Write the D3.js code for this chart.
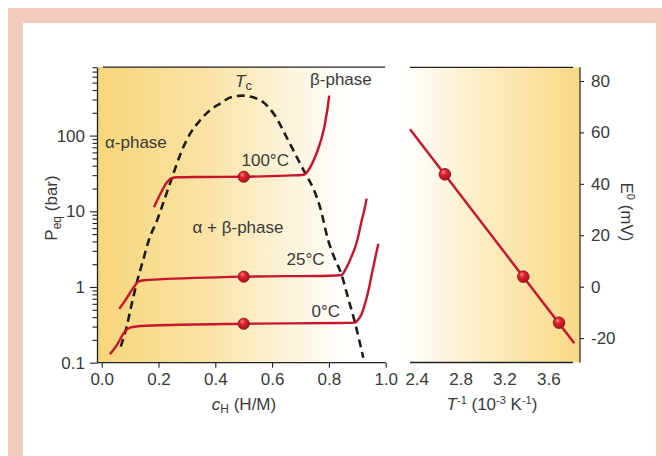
<!DOCTYPE html>
<html><head><meta charset="utf-8">
<script src="https://cdn.jsdelivr.net/npm/d3@7/dist/d3.min.js"></script>
<style>
html,body{margin:0;padding:0;background:#fff;}
text{font-family:"Liberation Sans",Arial,sans-serif;fill:#3a3a3a;}
</style></head>
<body><svg id="c" width="662" height="456"></svg>
<script>
// ---------- DATA ----------
const xTicksLeft = [0, 0.2, 0.4, 0.6, 0.8, 1.0];
const yTicksLeft = [0.1, 1, 10, 100];
const yTickLabelsLeft = ["0.1", "1", "10", "100"];
const xTicksRight = [2.4, 2.8, 3.2, 3.6];
const yTicksRight = [-20, 0, 20, 40, 60, 80];

// isotherms: [cH (H/M), Peq (bar)]
const iso100 = [[0.184,11.3],[0.205,16.5],[0.229,24.0],[0.245,27.2],[0.265,28.1],[0.35,28.4],[0.5,28.6],[0.65,29.6],[0.712,30.4],[0.727,34.5],[0.740,42],[0.751,51.6],[0.763,68],[0.775,95],[0.783,125],[0.790,175],[0.796,240],[0.801,337]];
const iso25 = [[0.062,0.517],[0.080,0.64],[0.100,0.84],[0.116,1.03],[0.129,1.18],[0.150,1.23],[0.20,1.26],[0.5,1.37],[0.80,1.41],[0.845,1.44],[0.858,1.7],[0.868,2.0],[0.880,2.55],[0.892,3.3],[0.904,4.8],[0.915,7.45],[0.925,10.5],[0.933,14.7]];
const iso0 = [[0.029,0.129],[0.055,0.175],[0.0785,0.249],[0.100,0.290],[0.135,0.305],[0.2,0.312],[0.5,0.327],[0.85,0.335],[0.892,0.338],[0.905,0.38],[0.915,0.436],[0.924,0.55],[0.933,0.72],[0.942,1.0],[0.951,1.47],[0.962,2.3],[0.974,3.73]];
// binodal (miscibility gap) boundary
const dome = [[0.067,0.163],[0.088,0.30],[0.105,0.58],[0.125,1.2],[0.145,2.2],[0.167,4.27],[0.194,7.45],[0.220,14],[0.246,26.8],[0.282,63],[0.314,110],[0.346,158],[0.380,215],[0.417,265],[0.455,320],[0.493,337],[0.530,322],[0.569,275],[0.610,184],[0.651,95],[0.687,52],[0.719,30.5],[0.745,20],[0.769,11.3],[0.798,4.06],[0.820,2.4],[0.845,1.44],[0.866,0.75],[0.892,0.337],[0.921,0.116]];
// plateau pressures at cH = 0.5
const plateauC = [0.5, 0.5, 0.5];
const plateauP = [28.6, 1.37, 0.327];
const plateauLabels = ["100°C", "25°C", "0°C"];
// E0 vs inverse temperature
const invT = [2.657, 3.372, 3.698];
const E0 = [43.7, 3.9, -14.0];
const fitInvT = [2.339, 3.837];
const fitE0 = [61.2, -22.0];

// ---------- DRAW ----------
const svg = d3.select("#c");
const RED = "#c8142c";
const defs = svg.append("defs");

const gL = defs.append("linearGradient").attr("id","gL").attr("gradientUnits","userSpaceOnUse")
  .attr("x1",97).attr("x2",345).attr("y1",0).attr("y2",0);
gL.append("stop").attr("offset",0).attr("stop-color","#f7d67a");
gL.append("stop").attr("offset",0.45).attr("stop-color","#f9e3a6");
gL.append("stop").attr("offset",1).attr("stop-color","#ffffff");
const gR = defs.append("linearGradient").attr("id","gR").attr("gradientUnits","userSpaceOnUse")
  .attr("x1",402).attr("x2",580).attr("y1",0).attr("y2",0);
gR.append("stop").attr("offset",0).attr("stop-color","#ffffff");
gR.append("stop").attr("offset",0.55).attr("stop-color","#fbe9b8");
gR.append("stop").attr("offset",1).attr("stop-color","#f8d985");
const rg = defs.append("radialGradient").attr("id","ball").attr("cx","0.38").attr("cy","0.32").attr("r","0.7");
rg.append("stop").attr("offset",0).attr("stop-color","#f58a8a");
rg.append("stop").attr("offset",0.35).attr("stop-color","#e0202c");
rg.append("stop").attr("offset",1).attr("stop-color","#b0101c");

// frame
svg.append("rect").attr("x",8).attr("y",8).attr("width",654).attr("height",448).attr("fill","#f3cbbd");
svg.append("rect").attr("x",23).attr("y",23).attr("width",633).attr("height",440).attr("fill","#ffffff");

// ----- left panel -----
const xL = d3.scaleLinear().domain([0,1]).range([101.7,385.7]);
const yL = d3.scaleLog().domain([0.1,800]).range([362.7,67.2]);
const axL = 97;

svg.append("rect").attr("x",axL).attr("y",yL(800)).attr("width",xL(1)-axL).attr("height",yL(0.1)-yL(800)).attr("fill","url(#gL)");

const line = d3.line().x(d=>xL(d[0])).y(d=>yL(d[1])).curve(d3.curveMonotoneX);
svg.append("path").attr("d",line(dome)).attr("fill","none").attr("stroke","#1e1e1e")
  .attr("stroke-width",2.6).attr("stroke-dasharray","8,5");
[iso100, iso25, iso0].forEach(c=>{
  svg.append("path").attr("d",line(c)).attr("fill","none").attr("stroke",RED).attr("stroke-width",2.4);
});
plateauC.forEach((c,i)=>{
  svg.append("circle").attr("cx",xL(c)).attr("cy",yL(plateauP[i])).attr("r",5.6)
    .attr("fill","url(#ball)").attr("stroke","#7c1d1d").attr("stroke-width",0.9);
});

// axes left
const minor = [];
for (let e=-1;e<=2;e++) for (let m=2;m<=9;m++){ const v=m*Math.pow(10,e); if (v<=800) minor.push(v); }
const gy = svg.append("g").attr("transform",`translate(${axL},0)`);
gy.call(d3.axisLeft(yL).tickValues(minor).tickSize(4.5).tickFormat(""));
gy.call(g=>g.select(".domain").remove());
const gy2 = svg.append("g").attr("transform",`translate(${axL},0)`);
gy2.call(d3.axisLeft(yL).tickValues(yTicksLeft).tickSize(7).tickPadding(5).tickSizeOuter(0)
  .tickFormat((d,i)=>yTickLabelsLeft[i]));
gy2.selectAll(".domain").attr("stroke","#222").attr("stroke-width",1.3);
[gy,gy2].forEach(g=>g.selectAll(".tick line").attr("stroke","#222").attr("stroke-width",1.1));
gy2.selectAll("text").style("font-size","17px").attr("fill","#3a3a3a");

const gx = svg.append("g").attr("transform",`translate(0,${yL(0.1)})`);
gx.call(d3.axisBottom(xL).tickValues(xTicksLeft).tickSize(5).tickPadding(5).tickFormat(d3.format(".1f")));
gx.select(".domain").remove();
gx.selectAll(".tick line").attr("stroke","#222").attr("stroke-width",1.1);
gx.selectAll("text").style("font-size","17px").attr("fill","#3a3a3a");
svg.append("line").attr("x1",axL).attr("x2",xL(1)).attr("y1",yL(0.1)).attr("y2",yL(0.1)).attr("stroke","#222").attr("stroke-width",1.3);
svg.append("line").attr("x1",xL(0)+1).attr("x2",xL(1)-0.5).attr("y1",yL(800)).attr("y2",yL(800)).attr("stroke","#222").attr("stroke-width",1.3);

// annotations left
function txt(x,y,s,opt={}){ const t=svg.append("text").attr("x",x).attr("y",y).style("font-size",(opt.size||17)+"px").text(s); if(opt.anchor) t.attr("text-anchor",opt.anchor); return t; }
const tc = svg.append("text").attr("x",235).attr("y",86.5).style("font-size","17px");
tc.append("tspan").style("font-style","italic").text("T");
tc.append("tspan").attr("dy",3).style("font-size","13px").text("c");
txt(310,85,"β-phase");
txt(105,148,"α-phase");
txt(192.5,233,"α + β-phase");
const labPos = [[241.5,166],[286.5,265],[311.5,316.5]];
plateauLabels.forEach((s,i)=>txt(labPos[i][0],labPos[i][1],s));

// axis titles left
const py = svg.append("text").attr("transform","translate(57,208) rotate(-90)").attr("text-anchor","middle").style("font-size","17px");
py.append("tspan").text("P");
py.append("tspan").attr("dy",4).style("font-size","12px").text("eq");
py.append("tspan").attr("dy",-4).text(" (bar)");
const cx = svg.append("text").attr("x",244).attr("y",410).attr("text-anchor","middle").style("font-size","17px");
cx.append("tspan").style("font-style","italic").text("c");
cx.append("tspan").attr("dy",3).style("font-size","12px").text("H");
cx.append("tspan").attr("dy",-3).text(" (H/M)");

// ----- right panel -----
const xR = d3.scaleLinear().domain([2.4,3.6]).range([416.7,548.3]);
const yR = d3.scaleLinear().domain([0,80]).range([286.7,81]);
const axR = 580, rTop = 67.3, rBot = 362.5, rLeft = 410;
svg.append("rect").attr("x",400).attr("y",rTop).attr("width",axR-400).attr("height",rBot-rTop).attr("fill","url(#gR)");

svg.append("line").attr("x1",xR(fitInvT[0])).attr("x2",xR(fitInvT[1])).attr("y1",yR(fitE0[0])).attr("y2",yR(fitE0[1]))
  .attr("stroke",RED).attr("stroke-width",2.4);
invT.forEach((v,i)=>{
  svg.append("circle").attr("cx",xR(v)).attr("cy",yR(E0[i])).attr("r",5.8)
    .attr("fill","url(#ball)").attr("stroke","#7c1d1d").attr("stroke-width",0.9);
});

const gyr = svg.append("g").attr("transform",`translate(${axR},0)`);
gyr.call(d3.axisRight(yR).tickValues(yTicksRight).tickSize(4).tickPadding(7).tickFormat(d=>String(d)));
gyr.select(".domain").remove();
gyr.selectAll(".tick line").attr("stroke","#222").attr("stroke-width",1.1);
gyr.selectAll("text").style("font-size","17px").attr("fill","#3a3a3a");
svg.append("line").attr("x1",axR).attr("x2",axR).attr("y1",rTop).attr("y2",rBot).attr("stroke","#333").attr("stroke-width",1.3);
svg.append("line").attr("x1",rLeft).attr("x2",axR-7).attr("y1",rTop).attr("y2",rTop).attr("stroke","#222").attr("stroke-width",1.3);
svg.append("line").attr("x1",rLeft).attr("x2",axR-7).attr("y1",rBot).attr("y2",rBot).attr("stroke","#222").attr("stroke-width",1.3);

const gxr = svg.append("g").attr("transform",`translate(0,${rBot})`);
gxr.call(d3.axisBottom(xR).tickValues(xTicksRight).tickSize(0).tickPadding(10).tickFormat(d3.format(".1f")));
gxr.select(".domain").remove();
gxr.selectAll("text").style("font-size","17px").attr("fill","#3a3a3a");

const tx = svg.append("text").attr("x",492).attr("y",410).attr("text-anchor","middle").style("font-size","17px");
tx.append("tspan").style("font-style","italic").text("T");
tx.append("tspan").attr("dy",-6).style("font-size","11px").text("-1");
tx.append("tspan").attr("dy",6).text(" (10");
tx.append("tspan").attr("dy",-6).style("font-size","11px").text("-3");
tx.append("tspan").attr("dy",6).text(" K");
tx.append("tspan").attr("dy",-6).style("font-size","11px").text("-1");
tx.append("tspan").attr("dy",6).text(")");

const ey = svg.append("text").attr("transform","translate(621,212) rotate(90)").attr("text-anchor","middle").style("font-size","17px");
ey.append("tspan").text("E");
ey.append("tspan").attr("dy",-6).style("font-size","11px").text("0");
ey.append("tspan").attr("dy",6).text(" (mV)");
</script></body></html>
